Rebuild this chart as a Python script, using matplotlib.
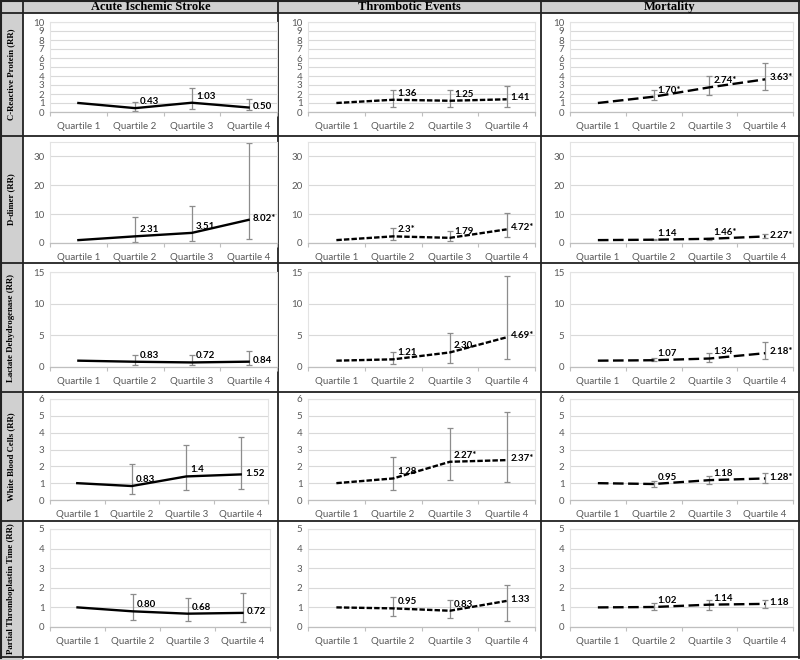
import matplotlib
matplotlib.use("Agg")
import matplotlib.pyplot as plt
from matplotlib.patches import Rectangle
import numpy as np

# ---------------- data ----------------
quartiles = ["Quartile 1", "Quartile 2", "Quartile 3", "Quartile 4"]
outcomes = ["Acute Ischemic Stroke", "Thrombotic Events", "Mortality"]
biomarkers = ["C-Reactive Protein (RR)", "D-dimer (RR)", "Lactate Dehydrogenase (RR)",
              "White Blood Cells (RR)", "Partial Thromboplastin Time (RR)"]

# each list: [AIS, Thrombotic, Mortality], each with 4 quartiles (Q1 = reference)
crp_rr = [[1, 0.43, 1.03, 0.50], [1, 1.36, 1.25, 1.41], [1, 1.70, 2.74, 3.63]]
crp_lo = [[np.nan, 0.15, 0.37, 0.20], [np.nan, 0.55, 0.55, 0.55], [np.nan, 1.30, 1.87, 2.43]]
crp_hi = [[np.nan, 1.10, 2.70, 1.48], [np.nan, 2.50, 2.45, 2.90], [np.nan, 2.43, 4.05, 5.50]]
crp_lbl = [["", "0.43", "1.03", "0.50"], ["", "1.36", "1.25", "1.41"], ["", "1.70*", "2.74*", "3.63*"]]

dd_rr = [[1, 2.31, 3.51, 8.02], [1, 2.3, 1.79, 4.72], [1, 1.14, 1.46, 2.27]]
dd_lo = [[np.nan, 0.5, 0.8, 1.5], [np.nan, 1.2, 0.7, 2.2], [np.nan, 1.0, 1.2, 1.7]]
dd_hi = [[np.nan, 9.06, 12.9, 34.7], [np.nan, 5.2, 4.0, 10.3], [np.nan, 1.3, 1.8, 3.0]]
dd_lbl = [["", "2.31", "3.51", "8.02*"], ["", "2.3*", "1.79", "4.72*"], ["", "1.14", "1.46*", "2.27*"]]

ldh_rr = [[1, 0.83, 0.72, 0.84], [1, 1.21, 2.30, 4.69], [1, 1.07, 1.34, 2.18]]
ldh_lo = [[np.nan, 0.35, 0.30, 0.30], [np.nan, 0.45, 0.70, 1.30], [np.nan, 0.90, 0.80, 1.30]]
ldh_hi = [[np.nan, 1.90, 1.90, 2.60], [np.nan, 2.40, 5.40, 14.4], [np.nan, 1.40, 2.20, 3.90]]
ldh_lbl = [["", "0.83", "0.72", "0.84"], ["", "1.21", "2.30", "4.69*"], ["", "1.07", "1.34", "2.18*"]]

wbc_rr = [[1, 0.83, 1.4, 1.52], [1, 1.28, 2.27, 2.37], [1, 0.95, 1.18, 1.28]]
wbc_lo = [[np.nan, 0.34, 0.60, 0.66], [np.nan, 0.60, 1.18, 1.08], [np.nan, 0.80, 0.95, 1.00]]
wbc_hi = [[np.nan, 2.13, 3.24, 3.74], [np.nan, 2.56, 4.30, 5.20], [np.nan, 1.15, 1.45, 1.60]]
wbc_lbl = [["", "0.83", "1.4", "1.52"], ["", "1.28", "2.27*", "2.37*"], ["", "0.95", "1.18", "1.28*"]]

ptt_rr = [[1, 0.80, 0.68, 0.72], [1, 0.95, 0.83, 1.33], [1, 1.02, 1.14, 1.18]]
ptt_lo = [[np.nan, 0.34, 0.32, 0.26], [np.nan, 0.54, 0.46, 0.33], [np.nan, 0.85, 0.89, 0.98]]
ptt_hi = [[np.nan, 1.68, 1.50, 1.73], [np.nan, 1.53, 1.40, 2.13], [np.nan, 1.24, 1.38, 1.38]]
ptt_lbl = [["", "0.80", "0.68", "0.72"], ["", "0.95", "0.83", "1.33"], ["", "1.02", "1.14", "1.18"]]

y_max = [10, 35, 15, 6, 5]
y_step = [1, 10, 5, 1, 1]

rows_data = [(crp_rr, crp_lo, crp_hi, crp_lbl), (dd_rr, dd_lo, dd_hi, dd_lbl),
             (ldh_rr, ldh_lo, ldh_hi, ldh_lbl), (wbc_rr, wbc_lo, wbc_hi, wbc_lbl),
             (ptt_rr, ptt_lo, ptt_hi, ptt_lbl)]

# ---------------- layout ----------------
W, H = 800, 660
fig = plt.figure(figsize=(8, 6.6), dpi=100)
fig.patch.set_facecolor("white")

def add_ax(x0, y0, x1, y1, **kw):
    return fig.add_axes([x0 / W, 1 - y1 / H, (x1 - x0) / W, (y1 - y0) / H], **kw)

bg = add_ax(0, 0, W, H)
bg.set_xlim(0, W)
bg.set_ylim(H, 0)
bg.axis("off")

col_edges = [23, 278, 541, 799]
row_edges = [13, 136, 263, 392, 521, 657]
gray = "#d0d0d0"
bg.add_patch(Rectangle((0, 0), W, 13, facecolor=gray, edgecolor="none"))
bg.add_patch(Rectangle((0, 0), 23, H, facecolor=gray, edgecolor="none"))
for x in col_edges:
    bg.plot([x, x], [0, 658], color="#222222", lw=1.3)
for y in row_edges:
    bg.plot([0, 800], [y, y], color="#222222", lw=1.3)
bg.plot([1, 1], [0, 658], color="#222222", lw=1.5)
bg.plot([0, 800], [1, 1], color="#222222", lw=1.5)

serif = ["Liberation Serif", "DejaVu Serif"]
for i, t in enumerate(outcomes):
    cx = (col_edges[i] + col_edges[i + 1]) / 2
    bg.text(cx, 7, t, ha="center", va="center", fontsize=9, fontweight="bold", family=serif)
for j, t in enumerate(biomarkers):
    cy = (row_edges[j] + row_edges[j + 1]) / 2
    bg.text(11.5, cy, t, ha="center", va="center", rotation=90, fontsize=6.3,
            fontweight="bold", family=serif)

col_x = [(50, 277), (308, 535), (570, 793)]
row_y = [(22, 112), (142, 243), (272, 367), (399, 500), (529, 627)]
col1_right = [277, 277, 277, 268, 270]

styles = [dict(linestyle="-"),
          dict(linestyle=(0, (2.3, 0.9))),
          dict(linestyle=(0, (4.5, 1.9)))]

sans = ["Lato", "DejaVu Sans"]
x = np.arange(4)

for r, (vals, lo, hi, lbl) in enumerate(rows_data):
    for c in range(3):
        x0, x1 = col_x[c]
        if c == 0:
            x1 = col1_right[r]
        y0, y1 = row_y[r]
        ax = add_ax(x0, y0, x1, y1)
        ax.set_facecolor("none")
        v = np.array(vals[c], dtype=float)
        l = np.array(lo[c], dtype=float)
        h = np.array(hi[c], dtype=float)
        ax.set_xlim(-0.5, 3.5)
        ax.set_ylim(0, y_max[r])
        ticks = np.arange(0, y_max[r] + 0.01, y_step[r])
        ax.set_yticks(ticks)
        ax.set_yticklabels([f"{t:g}" for t in ticks])
        ax.grid(axis="y", color="#d9d9d9", lw=0.8)
        ax.set_axisbelow(True)
        for s in ["top", "right", "left"]:
            ax.spines[s].set_color("#e3e3e3")
            ax.spines[s].set_linewidth(0.8)
        ax.spines["bottom"].set_color("#bfbfbf")
        ax.spines["bottom"].set_linewidth(0.9)
        ax.set_xticks(x)
        ax.set_xticklabels(quartiles)
        ax.set_xticks(np.arange(-0.5, 4, 1), minor=True)
        ax.tick_params(axis="x", which="major", length=0, pad=7, labelsize=7, labelcolor="#595959")
        ax.tick_params(axis="x", which="minor", length=3, color="#bfbfbf", width=0.8)
        ax.tick_params(axis="y", length=0, pad=4, labelsize=7, labelcolor="#595959")
        for t in ax.get_xticklabels() + ax.get_yticklabels():
            t.set_family(sans)
        ax.plot(x, v, color="black", lw=1.7, **styles[c], zorder=3)
        ax.errorbar(x, v, yerr=[v - l, h - v], fmt="none", ecolor="#8c8c8c",
                    elinewidth=0.9, capsize=2.5, capthick=0.9, zorder=2)
        for k in range(1, 4):
            if k == 3:
                ax.annotate(lbl[c][k], (x[k], v[k]), xytext=(3, 1), textcoords="offset points",
                            ha="left", va="center", fontsize=7, fontweight="bold", family=sans)
            else:
                ax.annotate(lbl[c][k], (x[k], v[k]), xytext=(3, 1.5), textcoords="offset points",
                            ha="left", va="bottom", fontsize=7, fontweight="bold", family=sans)

fig.savefig("out.png", dpi=100)
